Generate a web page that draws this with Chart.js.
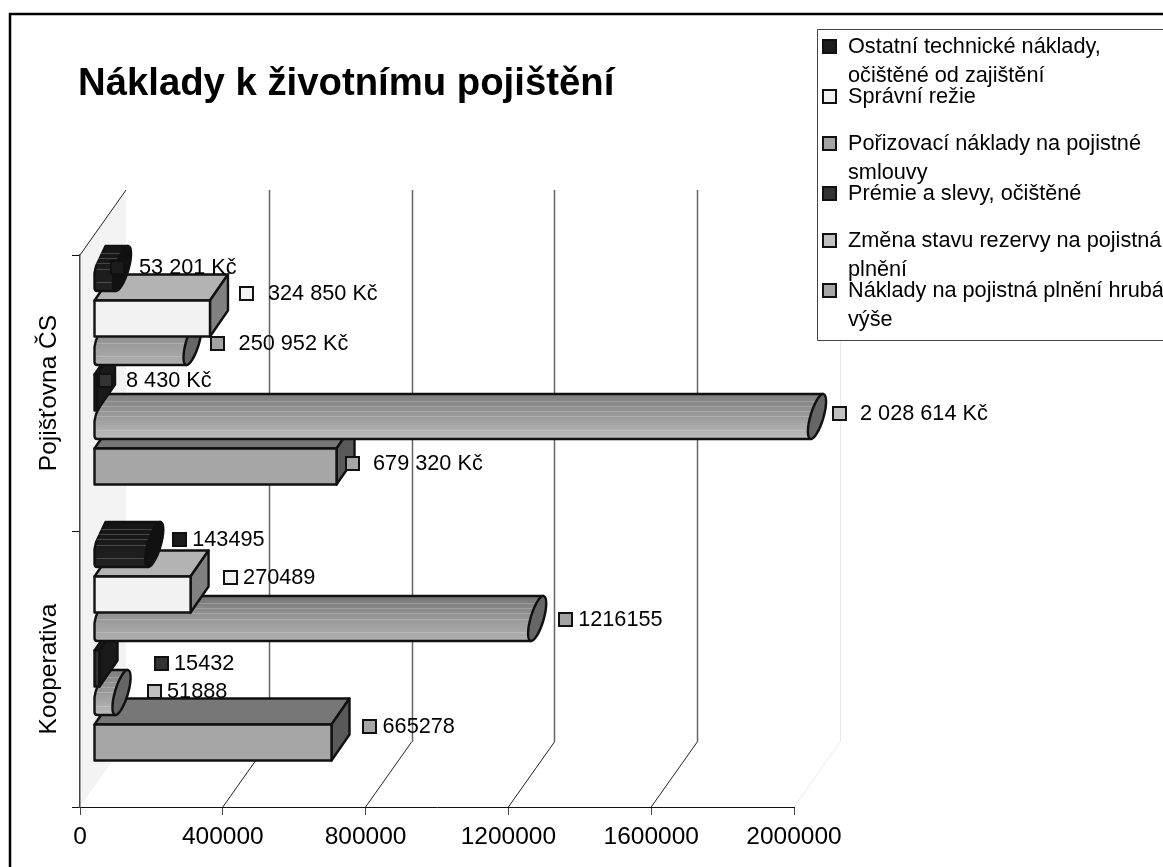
<!DOCTYPE html>
<html><head><meta charset="utf-8">
<style>html,body{margin:0;padding:0;background:#fff}canvas{display:block}</style>
<script src="https://cdn.jsdelivr.net/npm/chart.js@4"></script>
</head><body>
<div style="width:1163px;height:867px"><canvas id="c" width="1163" height="867"></canvas></div>
<script>
const titleText = 'Náklady k životnímu pojištění';
const categories = ['Pojišťovna ČS', 'Kooperativa'];
const seriesNames = [
  'Ostatní technické náklady, očištěné od zajištění',
  'Správní režie',
  'Pořizovací náklady na pojistné smlouvy',
  'Prémie a slevy, očištěné',
  'Změna stavu rezervy na pojistná plnění',
  'Náklady na pojistná plnění hrubá výše'
];
const ostatni   = [53201, 143495];
const spravni   = [324850, 270489];
const porizovaci= [250952, 1216155];
const premie    = [8430, 15432];
const zmena     = [2028614, 51888];
const naklady   = [679320, 665278];
const seriesValues = [ostatni, spravni, porizovaci, premie, zmena, naklady];
const xTicksMax = 2000000, xTicksStep = 400000;

/* appearance */
const legendLines = [
  ['Ostatní technické náklady,', 'očištěné od zajištění'],
  ['Správní režie'],
  ['Pořizovací náklady na pojistné', 'smlouvy'],
  ['Prémie a slevy, očištěné'],
  ['Změna stavu rezervy na pojistná', 'plnění'],
  ['Náklady na pojistná plnění hrubá', 'výše']
];
const frontColors = ['#1c1c1c', '#f2f2f2', '#a3a3a3', '#333333', '#c0c0c0', '#a6a6a6'];
const topColors   = ['#111111', '#b3b3b3', '#777777', '#1c1c1c', '#8a8a8a', '#777777'];
const sideColors  = ['#111111', '#808080', '#666666', '#1a1a1a', '#666666', '#595959'];
const shapes = ['cyl', 'box', 'cyl', 'box', 'cyl', 'box'];
const tubeShades = [[.75, 1, 1.2], null, [.72, .95, 1.08], null, [.66, .82, .98], null];
const FONT = '"Liberation Sans", Arial, sans-serif';
const FRONT_DX = 14, FRONT_DY = -19, DEPTH_DX = 18, DEPTH_DY = -26, WALL_DX = 46, WALL_DY = -65;
// hand-placed data label key offsets from bar end / bar slot centre, per category then series
const keyDx = [[5, 37, 34, 8, 31, 15.5], [34, 39.5, 37, 61.5, 41.5, 38]];
const keyDy = [[-33, -44, -31, -31, -35, -22], [-37, -36, -31, -24, -33, -35]];
const textGap = [21, 13];

function labelText(catIdx, v) {
  return catIdx === 0 ? String(v).replace(/\B(?=(\d{3})+$)/g, ' ') + ' Kč' : String(v);
}
function shade(hex, f) {
  const n = parseInt(hex.slice(1), 16);
  const c = s => Math.max(0, Math.min(255, Math.round(((n >> s) & 255) * f)));
  return `rgb(${c(16)},${c(8)},${c(0)})`;
}
function drawBox(ctx, x0, x1, fc, h, i) {
  const t = fc - h / 2, b = fc + h / 2;
  ctx.lineWidth = 2.4; ctx.strokeStyle = '#111'; ctx.lineJoin = 'round';
  ctx.fillStyle = topColors[i];
  ctx.beginPath(); ctx.moveTo(x0, t); ctx.lineTo(x0 + DEPTH_DX, t + DEPTH_DY); ctx.lineTo(x1 + DEPTH_DX, t + DEPTH_DY); ctx.lineTo(x1, t); ctx.closePath(); ctx.fill(); ctx.stroke();
  ctx.fillStyle = sideColors[i];
  ctx.beginPath(); ctx.moveTo(x1, t); ctx.lineTo(x1 + DEPTH_DX, t + DEPTH_DY); ctx.lineTo(x1 + DEPTH_DX, b + DEPTH_DY); ctx.lineTo(x1, b); ctx.closePath(); ctx.fill(); ctx.stroke();
  ctx.fillStyle = frontColors[i];
  ctx.beginPath(); ctx.rect(x0, t, x1 - x0, h); ctx.fill(); ctx.stroke();
}
function drawCyl(ctx, x0, x1, fc, h, i) {
  const c = fc + DEPTH_DY / 2, H = h * 1.25, b = 6.5, hy = H / 2;
  const th = -Math.atan2(44, 13);
  const a = Math.sqrt((hy * hy - b * b * Math.cos(th) ** 2) / Math.sin(th) ** 2);
  const rx = x1 + DEPTH_DX / 2;
  const tA = Math.atan2(b * Math.cos(th), a * Math.sin(th));
  const py = t => a * Math.cos(t) * Math.sin(th) + b * Math.sin(t) * Math.cos(th);
  const px = t => a * Math.cos(t) * Math.cos(th) - b * Math.sin(t) * Math.sin(th);
  const topT = py(tA) < 0 ? tA : tA + Math.PI, botT = topT === tA ? tA + Math.PI : tA;
  const grad = ctx.createLinearGradient(0, c - hy, 0, c + hy);
  const s = tubeShades[i];
  grad.addColorStop(0, shade(frontColors[i], s[0])); grad.addColorStop(.55, shade(frontColors[i], s[1])); grad.addColorStop(1, shade(frontColors[i], s[2]));
  ctx.lineWidth = 2.4; ctx.strokeStyle = '#111'; ctx.lineJoin = 'round';
  ctx.fillStyle = grad;
  ctx.beginPath();
  // blunt start of the tube, flat run along the top and bottom, then the slanted end
  ctx.moveTo(x0 + 11, c - hy);
  ctx.lineTo(rx + px(topT), c - hy);
  ctx.lineTo(rx + px(botT), c + hy);
  ctx.lineTo(x0 + 3, c + hy);
  ctx.quadraticCurveTo(x0, c + hy, x0, c + hy - 3);
  ctx.lineTo(x0, c + hy * 0.2);
  ctx.lineTo(x0 + 1.5, c - hy * 0.1);
  ctx.closePath();
  ctx.fill(); ctx.stroke();
  // banding of the rendered tube
  ctx.save(); ctx.beginPath();
  ctx.rect(x0 + 2, c - hy + 2, rx - x0 - 2, H - 4); ctx.clip();
  ctx.strokeStyle = 'rgba(255,255,255,.2)'; ctx.lineWidth = 1;
  [0.16, 0.26, 0.38, 0.5, 0.8].forEach(f => { const y = Math.round(c - hy + H * f) + .5; ctx.beginPath(); ctx.moveTo(x0, y); ctx.lineTo(rx, y); ctx.stroke(); });
  ctx.restore();
  ctx.lineWidth = 2.4; ctx.strokeStyle = '#111';
  ctx.fillStyle = sideColors[i];
  ctx.beginPath(); ctx.ellipse(rx, c, a, b, th, 0, Math.PI * 2); ctx.fill(); ctx.stroke();
}
function key(ctx, cx, cy, color) {
  ctx.fillStyle = color; ctx.strokeStyle = '#111'; ctx.lineWidth = 2;
  ctx.beginPath(); ctx.rect(Math.round(cx - 6.5), Math.round(cy - 6.5), 13, 13); ctx.fill(); ctx.stroke();
}

const scene3d = {
  id: 'scene3d',
  beforeDraw(chart) {
    const { ctx, chartArea: a, scales: { x } } = chart;
    ctx.save();
    ctx.fillStyle = '#f3f3f3';
    ctx.beginPath();
    ctx.moveTo(a.left, a.top); ctx.lineTo(a.left + WALL_DX, a.top + WALL_DY);
    ctx.lineTo(a.left + WALL_DX, a.bottom + WALL_DY); ctx.lineTo(a.left, a.bottom); ctx.closePath(); ctx.fill();
    ctx.strokeStyle = '#222'; ctx.lineWidth = 1;
    ctx.beginPath(); ctx.moveTo(a.left, a.top); ctx.lineTo(a.left + WALL_DX, a.top + WALL_DY); ctx.stroke();
    x.ticks.forEach((t, i) => {
      if (!i) return;
      const px = x.getPixelForValue(t.value);
      const last = t.value === xTicksMax;
      ctx.strokeStyle = last ? '#e8e8e8' : '#222'; ctx.lineWidth = 1;
      ctx.beginPath(); ctx.moveTo(px, a.bottom); ctx.lineTo(px + WALL_DX, a.bottom + WALL_DY); ctx.stroke();
      ctx.strokeStyle = last ? '#e8e8e8' : '#666'; ctx.lineWidth = last ? 1 : 1.5;
      const gx = Math.round(px + WALL_DX) + .5;
      ctx.beginPath(); ctx.moveTo(gx, a.top + WALL_DY); ctx.lineTo(gx, a.bottom + WALL_DY); ctx.stroke();
    });
    ctx.restore();
  },
  beforeDatasetsDraw(chart) {
    const { ctx, scales: { x } } = chart;
    const maxPx = x.getPixelForValue(xTicksMax);
    ctx.save();
    for (let i = chart.data.datasets.length - 1; i >= 0; i--) {
      chart.getDatasetMeta(i).data.forEach(bar => {
        const p = bar.getProps(['x', 'y', 'base', 'height'], true);
        const x0 = p.base + FRONT_DX, x1 = Math.min(p.x, maxPx) + FRONT_DX;
        const fc = p.y + FRONT_DY;
        if (shapes[i] === 'box') drawBox(ctx, x0, x1, fc, p.height - 1, i);
        else drawCyl(ctx, x0, x1, fc, p.height - 1, i);
      });
    }
    ctx.restore();
    return false; // the extruded shapes replace the flat bars
  },
  afterDraw(chart) {
    const { ctx, scales: { x } } = chart;
    const maxPx = x.getPixelForValue(xTicksMax);
    ctx.save();
    // data labels with legend keys
    ctx.textBaseline = 'middle'; ctx.textAlign = 'left';
    chart.data.datasets.forEach((ds, i) => {
      chart.getDatasetMeta(i).data.forEach((bar, c) => {
        const p = bar.getProps(['x', 'y'], true);
        const end = Math.min(p.x, maxPx) + FRONT_DX;
        const kx = end + keyDx[c][i], ky = p.y + keyDy[c][i];
        key(ctx, kx, ky, frontColors[i]);
        ctx.fillStyle = '#000'; ctx.font = '21.7px ' + FONT;
        ctx.fillText(labelText(c, ds.data[c]), kx + textGap[c], ky + 0.5);
      });
    });
    // title
    ctx.fillStyle = '#000'; ctx.font = 'bold 38.3px ' + FONT; ctx.textBaseline = 'alphabetic';
    ctx.fillText(titleText, 78, 95);
    // legend
    ctx.fillStyle = '#fff'; ctx.strokeStyle = '#444'; ctx.lineWidth = 1;
    ctx.beginPath(); ctx.rect(817.5, 29.5, 360, 311); ctx.fill(); ctx.stroke();
    const rows = [46, 96, 143, 193, 240, 290];
    ctx.font = '21.7px ' + FONT; ctx.textBaseline = 'middle';
    legendLines.forEach((lines, i) => {
      key(ctx, 829, rows[i], frontColors[i]);
      ctx.fillStyle = '#000';
      lines.forEach((s, j) => ctx.fillText(s, 848, rows[i] + 1.5 + j * 29));
    });
    // outer frame
    ctx.strokeStyle = '#000'; ctx.lineWidth = 2.5;
    ctx.beginPath(); ctx.moveTo(10, 870); ctx.lineTo(10, 14); ctx.lineTo(1170, 14); ctx.stroke();
    ctx.restore();
  }
};

new Chart(document.getElementById('c'), {
  type: 'bar',
  data: {
    labels: categories,
    datasets: seriesNames.map((n, i) => ({
      label: n, data: seriesValues[i], backgroundColor: frontColors[i],
      barPercentage: 1, categoryPercentage: 0.804
    }))
  },
  plugins: [scene3d],
  options: {
    indexAxis: 'y', responsive: false, animation: false,
    layout: { padding: { left: 0, top: 255, right: 369, bottom: 0 } },
    plugins: { legend: { display: false }, title: { display: false }, tooltip: { enabled: false } },
    scales: {
      x: {
        type: 'linear', min: 0, max: xTicksMax,
        afterFit(s) { s.height = 60; },
        border: { display: true, color: '#111', width: 1 },
        grid: { display: true, drawOnChartArea: false, drawTicks: true, tickLength: 8, color: '#444' },
        ticks: { stepSize: xTicksStep, color: '#000', padding: 8, maxRotation: 0, font: { family: FONT, size: 24.5 }, callback: v => String(v) }
      },
      y: {
        type: 'category',
        afterFit(s) { s.width = 80; },
        border: { display: true, color: '#444', width: 1.5 },
        grid: { display: true, drawOnChartArea: false, drawTicks: true, tickLength: 8, color: '#111', offset: true },
        ticks: { color: '#000', autoSkip: false, minRotation: 90, maxRotation: 90, crossAlign: 'center', padding: -55, font: { family: FONT, size: 24.5 } }
      }
    }
  }
});
</script>
</body></html>
